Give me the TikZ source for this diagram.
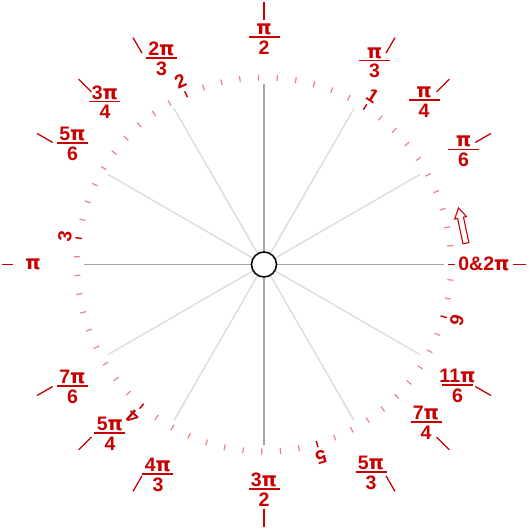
\documentclass[tikz,border=0pt]{standalone}
\usepackage{fontspec}
\setmainfont{Liberation Sans}
\newfontfamily\pifont{DejaVu Sans}
\newcommand{\PI}{{\pifont\bfseries π}}
\usetikzlibrary{calc}
\definecolor{lred}{RGB}{200,0,0}
\definecolor{tickred}{RGB}{234,130,130}
\definecolor{axgray}{RGB}{165,165,165}
\definecolor{diagray}{RGB}{220,220,220}
\begin{document}
\begin{tikzpicture}[x=1pt,y=1pt,
  lbl/.style={text=lred, font=\fontsize{19.5}{21}\selectfont\bfseries, inner sep=0pt},
  dig/.style={text=lred, font=\fontsize{19}{21}\selectfont\bfseries, inner sep=0pt},
  fbar/.style={draw=lred, line width=1.5pt},
  lblline/.style={draw=lred, line width=1.3pt},
  ltick/.style={draw=tickred, line width=1.2pt},
  dtick/.style={draw=lred, line width=1.3pt},
  axspoke/.style={draw=axgray, line width=1.4pt},
  dgspoke/.style={draw=diagray, line width=1.4pt},
  hub/.style={circle, draw=black, line width=1.5pt, fill=white, minimum size=25pt, inner sep=0pt}]
\useasboundingbox (-264,-265.5) rectangle (266,264.5);
% fraction macro: name, position, numerator, denominator
\newcommand{\myfrac}[4]{%
  \coordinate (#1) at #2;
  \node[lbl, anchor=base] (#1-n) at ($(#1)+(0,2.6)$) {#3};
  \node[lbl, anchor=north] (#1-d) at ($(#1)+(0,-3.4)$) {#4};
  \draw[fbar] ($(#1)+(-15.5,0)$) -- ($(#1)+(15.5,0)$);
}
% spokes
\foreach \a in {30,60,120,150,210,240,300,330} \draw[dgspoke] (\a:12.5) -- (\a:180);
\foreach \a in {0,90,180,270} \draw[axspoke] (\a:12.5) -- (\a:180);
% ticks every 0.1 rad
\foreach \k in {0,...,62} {
  \pgfmathsetmacro\ang{\k*0.1*180/pi}
  \draw[ltick] (\ang:184) -- (\ang:190);
}
\foreach \k in {0,...,6} {
  \pgfmathsetmacro\ang{\k*180/pi}
  \draw[dtick] (\ang:184) -- (\ang:190.5);
}
% radian digits
\foreach \k in {1,...,6} {
  \pgfmathsetmacro\ang{\k*180/pi}
  \pgfmathsetmacro\rot{\ang-90}
  \node[dig, rotate=\rot] (d\k) at (\ang:201) {\k};
}
% direction arrow
\begin{scope}[shift={(11.1:202)}, rotate=102]
  \draw[draw=lred, line width=1.1pt, fill=white]
    (-18,-3) -- (8,-3) -- (8,-6) -- (18,0) -- (8,6) -- (8,3) -- (-18,3) -- cycle;
\end{scope}
% hub
\node[hub] (c) at (0,0) {};
% labels
\myfrac{f90}{(0,227.5)}{\PI}{2}
\myfrac{f60}{(110.5,203.8)}{\PI}{3}
\myfrac{f45}{(160,164.5)}{\PI}{4}
\myfrac{f30}{(199.5,115.2)}{\PI}{6}
\myfrac{f120}{(-102.5,206.5)}{2\PI}{3}
\myfrac{f135}{(-159,162.8)}{3\PI}{4}
\myfrac{f150}{(-191.5,121.5)}{5\PI}{6}
\myfrac{f210}{(-191.5,-121.5)}{7\PI}{6}
\myfrac{f225}{(-154,-168.5)}{5\PI}{4}
\myfrac{f240}{(-106,-209.5)}{4\PI}{3}
\myfrac{f270}{(0,-224.5)}{3\PI}{2}
\myfrac{f300}{(107,-207.5)}{5\PI}{3}
\myfrac{f315}{(162,-157.5)}{7\PI}{4}
\myfrac{f330}{(193.5,-120.5)}{11\PI}{6}
\node[lbl] (f180) at (-231,0) {\PI};
\node[lbl] (f0) at (220,1) {0\&2\PI};
% label lines
\foreach \a in {30,45,60,90,120,135,150,210,225,240,270,300,315,330}
  \draw[lblline] (\a:244) -- (\a:262);
\draw[lblline] (180:251) -- (180:261.5);
\draw[lblline] (0:249) -- (0:262);
\end{tikzpicture}
\end{document}
